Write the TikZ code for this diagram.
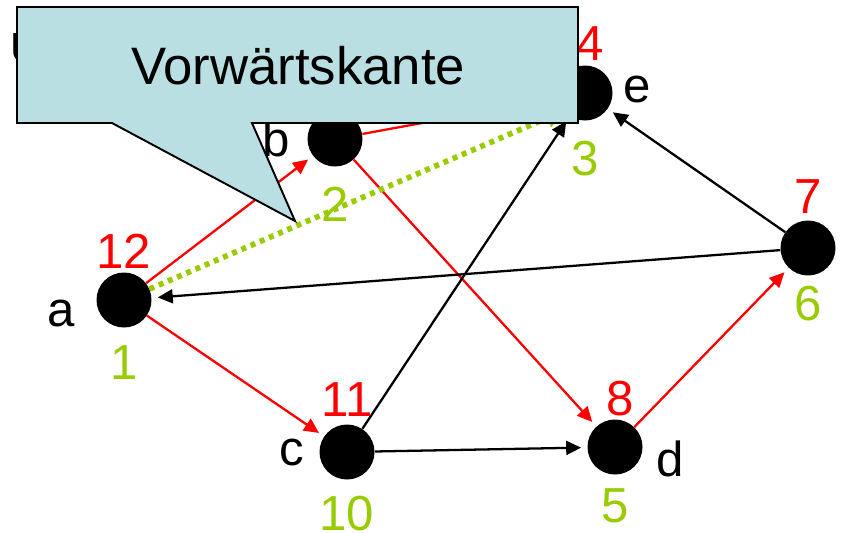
\documentclass[tikz,border=0pt]{standalone}
\usepackage{fontspec}
\setmainfont{Liberation Sans}
\usetikzlibrary{positioning, arrows.meta}
\definecolor{numred}{RGB}{255,0,0}
\definecolor{numgreen}{RGB}{153,204,0}
\definecolor{calloutc}{RGB}{185,223,227}

\begin{document}
\begin{tikzpicture}[x=0.02cm, y=-0.02cm, >={Triangle[length=0.3cm, width=0.28cm]},
  % vertices and their numbers
  dot/.style={circle, fill=black, minimum size=1.1cm, inner sep=0pt},
  rednum/.style={text=numred, font=\fontsize{28pt}{30pt}\selectfont, inner sep=0pt},
  greennum/.style={text=numgreen, font=\fontsize{28pt}{30pt}\selectfont, inner sep=0pt},
  vname/.style={font=\fontsize{28pt}{30pt}\selectfont, inner sep=0pt},
  % arcs
  redarc/.style={->, numred, line width=1.3pt, shorten >=0.12cm},
  blackarc/.style={->, black, line width=1.3pt, shorten >=0.12cm},
  fwdarc/.style={->, numgreen, line width=3.2pt, dash pattern=on 0.1cm off 0.1cm,
                 >={Triangle[length=0.36cm, width=0.38cm]}},
]
\useasboundingbox (0,0) rectangle (841,532);

%% -- vertices ---------------------------------------------------
\node[dot] (a) at (124,300) {};
\node[dot] (b) at (335,139) {};
\node[dot] (e) at (585,93)  {};
\node[dot] (c) at (347,452) {};
\node[dot] (d) at (615,447) {};
\node[dot] (f) at (808,248) {};

%% -- names --------------------------------------------------------
\node[vname, left=0.42cm of a, yshift=-0.26cm] {a};
\node[vname, left=0.34cm of b] {b};
\node[vname, left=0.3cm of c] {c};
\node[vname, right=0.26cm of d, yshift=-0.24cm] {d};
\node[vname, right=0.2cm of e, yshift=0.08cm] {e};

%% -- finishing numbers (red) and discovery numbers (green) --------
\node[rednum, above=0.06cm of a] (a-out) {12};
\node[rednum, above=0.14cm of c] (c-out) {11};
\node[rednum, above=0.05cm of d, xshift=0.1cm] (d-out) {8};
\node[rednum, above=0.08cm of e, xshift=0.1cm] (e-out) {4};
\node[rednum, above=0.12cm of f] (f-out) {7};
\node[greennum, below=0.34cm of a] (a-in) {1};
\node[greennum, below=0.4cm of b] (b-in) {2};
\node[greennum, below=0.32cm of c] (c-in) {10};
\node[greennum, below=0.27cm of d] (d-in) {5};
\node[greennum, below=0.4cm of e] (e-in) {3};
\node[greennum, below=0.2cm of f] (f-in) {6};

%% -- arcs ---------------------------------------------------------
\draw[redarc] (a) -- (b);
\draw[redarc] (a) -- (c);
\draw[redarc] (b) -- (e);
\draw[redarc] (b) -- (d);
\draw[redarc] (d) -- (f);
\draw[blackarc] (f) -- (a);
\draw[blackarc] (f) -- (e);
\draw[blackarc] (c) -- (e);
\draw[blackarc] (c) -- (d);
\draw[fwdarc] (a) -- (e.220);

%% -- callout ------------------------------------------------------
\node[font=\fontsize{24pt}{28pt}\selectfont, inner sep=0pt, anchor=north west] (hidden) at (10,33) {U};
\draw[fill=calloutc, line width=1.1pt, line join=miter]
  (17,7) -- (578,7) -- (578,123) -- (252,123) -- (295,221) -- (112,123) -- (17,123) -- cycle;
\node[font=\fontsize{30pt}{36pt}\selectfont, inner sep=0pt] (vk) at (298,66) {Vorwärtskante};

\end{tikzpicture}
\end{document}
